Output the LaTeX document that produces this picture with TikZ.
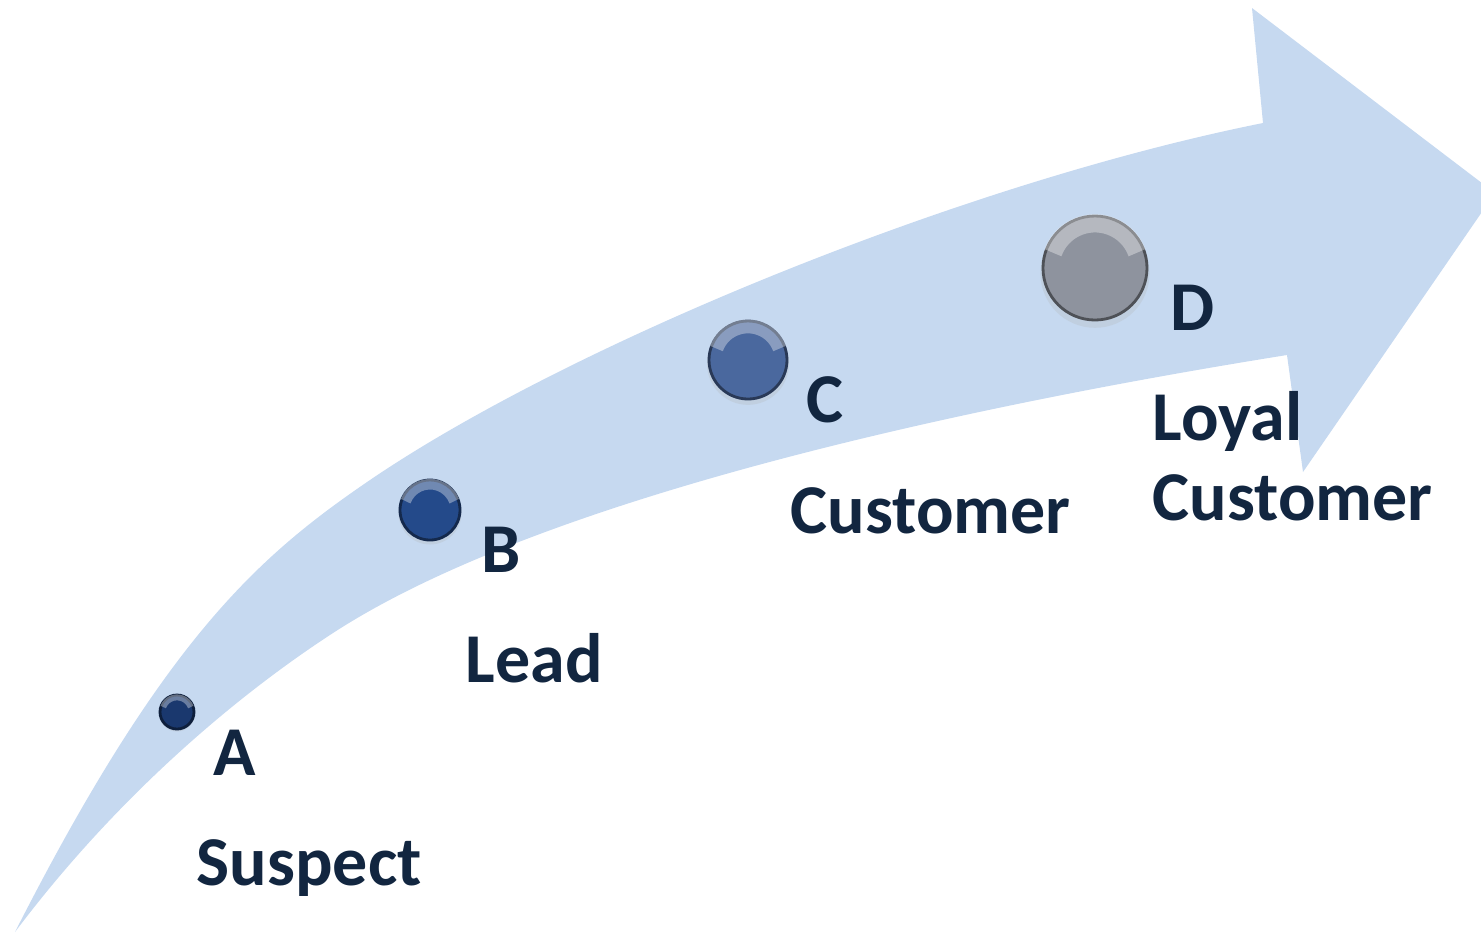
\documentclass[tikz,border=0pt]{standalone}
\usepackage{fontspec}
\setmainfont{Carlito}
\usetikzlibrary{calc}
\definecolor{arrowblue}{RGB}{198,217,240}
\definecolor{txtnavy}{RGB}{18,38,64}
\definecolor{ballA}{RGB}{26,56,110}
\definecolor{ballB}{RGB}{36,74,138}
\definecolor{ballC}{RGB}{74,104,158}
\definecolor{ballD}{RGB}{142,147,158}
\tikzset{
  lbl/.style={anchor=base west, inner sep=0pt, text=txtnavy, font=\fontsize{19.9pt}{22pt}\selectfont\bfseries},
}
\newcommand{\mysphere}[4]{% name, center, radius, colour
  \fill[black!30, opacity=0.25] ($#2+(0,#3*0.10)$) circle ({#3*1.05});
  \fill[#4] #2 circle (#3);
  \draw[#4!55!black, line width=0.8] #2 circle (#3);
  \draw[white, opacity=0.35, line width={#3*0.10}] ($#2$) ++(200:{#3*0.86}) arc (200:340:{#3*0.86});
  \coordinate (#1) at #2;
}
\begin{document}
\begin{tikzpicture}[x=0.01cm, y=-0.01cm]
\useasboundingbox (0,0) rectangle (1481,932);
\clip (0,0) rectangle (1481,932);
% arrow
\fill[arrowblue] (15,932) .. controls (165,637) and (260,555) .. (370,480)
  .. controls (570,344) and (963,183) .. (1263,123)
  -- (1252,8) -- (1495,193) -- (1303,472) -- (1287,355)
  .. controls (937,411) and (533,503) .. (333,633)
  .. controls (233,698) and (115,799) .. (15,932) -- cycle;
% spheres
\mysphere{sA}{(177,712)}{17}{ballA}
\mysphere{sB}{(430,510)}{30}{ballB}
\mysphere{sC}{(748,360)}{39}{ballC}
\mysphere{sD}{(1095,268)}{52}{ballD}
% labels
\node[lbl] (lA) at (213,775) {A};
\node[lbl] (tA) at (196,885) {Suspect};
\node[lbl] (lB) at (481,572) {B};
\node[lbl] (tB) at (465,682) {Lead};
\node[lbl] (lC) at (806,422) {C};
\node[lbl] (tC) at (790,533) {Customer};
\node[lbl] (lD) at (1170,330) {D};
\node[lbl] (tD1) at (1152,440) {Loyal};
\node[lbl] (tD2) at (1152,520) {Customer};
\end{tikzpicture}
\end{document}
